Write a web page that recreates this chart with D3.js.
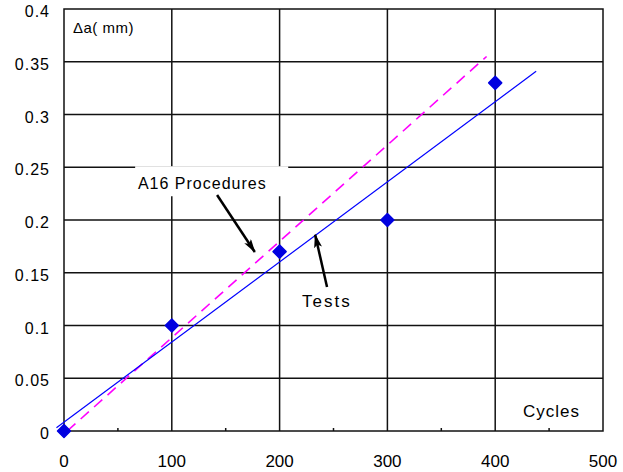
<!DOCTYPE html>
<html>
<head>
<meta charset="utf-8">
<script src="https://cdn.jsdelivr.net/npm/d3@7"></script>
<style>
    body { margin: 0; background: #fff; }
    text { font-family: "Liberation Sans", Arial, sans-serif; fill: #000; }
</style>
</head>
<body>
<script>
// data
const cycles = [0, 100, 200, 300, 400];
const deltaA = [0, 0.1, 0.17, 0.2, 0.33];
const testsLine = [[-7, 0.003], [438, 0.341]];
const a16Line = [[3, 0], [392, 0.355]];
const xTicks = [0, 100, 200, 300, 400, 500];
const xMinor = [50, 150, 250, 350, 450];
const yTicks = [0, 0.05, 0.1, 0.15, 0.2, 0.25, 0.3, 0.35, 0.4];

const width = 623, height = 472;
const margin = { top: 9, right: 20, bottom: 41, left: 64 };

const svg = d3.select("body").append("svg")
    .attr("width", width)
    .attr("height", height);

const x = d3.scaleLinear().domain([0, 500]).range([margin.left, width - margin.right]);
const y = d3.scaleLinear().domain([0, 0.4]).range([height - margin.bottom, margin.top]);

// grid
svg.append("g").selectAll("line.v")
    .data(xTicks.slice(1, -1))
    .join("line")
    .attr("x1", d => x(d)).attr("x2", d => x(d))
    .attr("y1", y(0)).attr("y2", y(0.4))
    .attr("stroke", "#111").attr("stroke-width", 1.5);

svg.append("g").selectAll("line.h")
    .data(yTicks.slice(1, -1))
    .join("line")
    .attr("x1", x(0)).attr("x2", x(500))
    .attr("y1", d => y(d)).attr("y2", d => y(d))
    .attr("stroke", "#111").attr("stroke-width", 1.5);

// minor ticks on x axis
svg.append("g").selectAll("line")
    .data(xMinor)
    .join("line")
    .attr("x1", d => x(d)).attr("x2", d => x(d))
    .attr("y1", y(0)).attr("y2", y(0) - 3)
    .attr("stroke", "#111").attr("stroke-width", 1.5);

// frame
svg.append("rect")
    .attr("x", x(0)).attr("y", y(0.4))
    .attr("width", x(500) - x(0)).attr("height", y(0) - y(0.4))
    .attr("fill", "none").attr("stroke", "#111").attr("stroke-width", 1.5);

// tick labels
svg.append("g").selectAll("text")
    .data(xTicks)
    .join("text")
    .attr("x", d => x(d)).attr("y", y(0) + 36)
    .attr("text-anchor", "middle")
    .style("font-size", "17px")
    .text(d => d);

svg.append("g").selectAll("text")
    .data(yTicks)
    .join("text")
    .attr("x", 50).attr("y", d => y(d) + 8)
    .attr("text-anchor", "end")
    .style("font-size", "16px")
    .style("letter-spacing", "1px")
    .text(d => d);

const line = d3.line().x(d => x(d[0])).y(d => y(d[1]));

// A16 procedures (dashed)
svg.append("path")
    .datum(a16Line)
    .attr("d", line)
    .attr("fill", "none")
    .attr("stroke", "#ff00ff")
    .attr("stroke-width", 1.6)
    .attr("stroke-dasharray", "11,7");

// tests fit
svg.append("path")
    .datum(testsLine)
    .attr("d", line)
    .attr("fill", "none")
    .attr("stroke", "#0000ff")
    .attr("stroke-width", 1.2);

// points
const diamond = "M0,-6.5L6.5,0L0,6.5L-6.5,0Z";
svg.append("g").selectAll("path")
    .data(cycles)
    .join("path")
    .attr("d", diamond)
    .attr("transform", (d, i) => `translate(${x(d)},${y(deltaA[i])})`)
    .attr("fill", "#0000e0")
    .attr("stroke", "#0000e0")
    .attr("stroke-width", 1.5)
    .attr("stroke-linejoin", "round");

// arrowhead
svg.append("defs").append("marker")
    .attr("id", "arrow")
    .attr("viewBox", "0 0 14 8")
    .attr("refX", 13).attr("refY", 4)
    .attr("markerWidth", 14).attr("markerHeight", 8)
    .attr("markerUnits", "userSpaceOnUse")
    .attr("orient", "auto")
    .append("path")
    .attr("d", "M0,0L14,4L0,8L3,4Z")
    .attr("fill", "#000");

// annotation A16 Procedures
svg.append("rect")
    .attr("x", x(66)).attr("y", y(0.25) - 1)
    .attr("width", x(208) - x(66)).attr("height", 30)
    .attr("fill", "#fff");

svg.append("text")
    .attr("x", x(68.6)).attr("y", y(0.2294))
    .style("font-size", "16px")
    .style("letter-spacing", "1px")
    .text("A16 Procedures");

svg.append("line")
    .attr("x1", x(142)).attr("y1", y(0.2237))
    .attr("x2", x(177)).attr("y2", y(0.1697))
    .attr("stroke", "#000").attr("stroke-width", 2.5)
    .attr("marker-end", "url(#arrow)");

// annotation Tests
svg.append("text")
    .attr("x", x(220.8)).attr("y", y(0.1175))
    .style("font-size", "17px")
    .style("letter-spacing", "2px")
    .text("Tests");

svg.append("line")
    .attr("x1", x(244)).attr("y1", y(0.1365))
    .attr("x2", x(233)).attr("y2", y(0.186))
    .attr("stroke", "#000").attr("stroke-width", 2.5)
    .attr("marker-end", "url(#arrow)");

// axis titles
svg.append("text")
    .attr("x", x(8.3)).attr("y", y(0.377))
    .style("font-size", "15px")
    .style("letter-spacing", "0.5px")
    .text("Δa( mm)");

svg.append("text")
    .attr("x", x(425.8)).attr("y", y(0.0133))
    .style("font-size", "17px")
    .style("letter-spacing", "1px")
    .text("Cycles");
</script>
</body>
</html>
